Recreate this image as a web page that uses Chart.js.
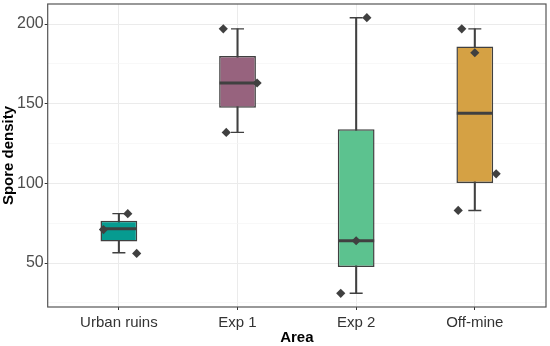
<!DOCTYPE html>
<html>
<head>
<meta charset="utf-8">
<script src="https://cdn.jsdelivr.net/npm/chart.js@4/dist/chart.umd.min.js"></script>
<style>
    html, body { margin: 0; padding: 0; background: #ffffff; }
    #wrap { width: 550px; height: 346px; }
</style>
</head>
<body>
<div id="wrap"><canvas id="base"></canvas></div>
<script>
// Data
const areas = ["Urban ruins", "Exp 1", "Exp 2", "Off-mine"];
const boxColors = ["#069b90", "#97637e", "#5cc28f", "#d5a144"];

// box stats per area
const whiskerLow = [56.5, 132, 31, 83];
const q1 = [63.5, 147.5, 47.5, 100.3];
const median = [71.5, 163, 64, 144];
const q3 = [76.5, 180, 134, 186];
const whiskerHigh = [81, 197, 204, 197];

// raw observations (area index, jitter offset, value)
const obsArea = [1, 1, 1, 2, 2, 2, 3, 3, 3, 4, 4, 4, 4];
const obsJitter = [0.075, -0.13, 0.15, -0.12, 0.165, -0.095, 0.09, 0, -0.13, -0.11, 0, 0.18, -0.14];
const obsValue = [81, 71, 56, 197, 163, 132, 204, 64, 31, 197, 182, 106, 83];

const yTicks = [25, 50, 75, 100, 125, 150, 175, 200];
const xTicks = [1, 2, 3, 4];

const ink = "#404040";

// Panel frame
const frame = {
    id: "frame",
    afterDraw(chart) {
        const { ctx, chartArea } = chart;
        ctx.save();
        ctx.strokeStyle = "#555555";
        ctx.lineWidth = 1.2;
        ctx.strokeRect(chartArea.left, chartArea.top, chartArea.right - chartArea.left, chartArea.bottom - chartArea.top);
        ctx.restore();
    },
};

const ctx = document.getElementById("base").getContext("2d");

new Chart(ctx, {
    type: "bar",
    data: {
        datasets: [
            {
                // whiskers
                type: "bar",
                data: xTicks.map((x, i) => ({ x: x, y: [whiskerLow[i], whiskerHigh[i]] })),
                backgroundColor: ink,
                barThickness: 1.4,
                grouped: false,
                order: 4,
            },
            {
                // boxes
                type: "bar",
                data: xTicks.map((x, i) => ({ x: x, y: [q1[i], q3[i]] })),
                backgroundColor: boxColors,
                borderColor: ink,
                borderWidth: 1.5,
                borderSkipped: false,
                barPercentage: 1,
                categoryPercentage: 0.31,
                grouped: false,
                order: 3,
            },
            {
                // whisker caps
                type: "scatter",
                data: xTicks.flatMap((x, i) => [{ x: x, y: whiskerLow[i] }, { x: x, y: whiskerHigh[i] }]),
                pointStyle: "line",
                pointRadius: 6.5,
                borderColor: ink,
                borderWidth: 1.4,
                order: 2,
            },
            {
                // medians
                type: "scatter",
                data: xTicks.map((x, i) => ({ x: x, y: median[i] })),
                pointStyle: "line",
                pointRadius: 18,
                borderColor: ink,
                borderWidth: 3,
                order: 1,
            },
            {
                // observations
                type: "scatter",
                data: obsValue.map((v, i) => ({ x: obsArea[i] + obsJitter[i], y: v })),
                pointStyle: "rectRot",
                pointRadius: 4.6,
                backgroundColor: ink,
                borderColor: ink,
                borderWidth: 0,
                order: 0,
            },
        ],
    },
    plugins: [frame],
    options: {
        responsive: true,
        maintainAspectRatio: false,
        animation: false,
        events: [],
        layout: {
            autoPadding: false,
            padding: { left: 1, right: 4, top: 4, bottom: 1 },
        },
        scales: {
            x: {
                type: "linear",
                min: 0.4,
                max: 4.6,
                offset: false,
                afterBuildTicks: (scale) => {
                    scale.ticks = xTicks.map((v) => ({ value: v }));
                },
                afterFit: (scale) => {
                    scale.paddingLeft = 0;
                    scale.paddingRight = 0;
                },
                ticks: {
                    autoSkip: false,
                    maxRotation: 0,
                    padding: 5,
                    color: "#333333",
                    font: { family: "Liberation Sans", size: 15, lineHeight: 1 },
                    callback: (v) => areas[v - 1] || "",
                },
                grid: {
                    offset: false,
                    color: "#ebebeb",
                    lineWidth: 1,
                    tickLength: 3,
                    tickColor: "#333333",
                },
                border: { display: false },
                title: {
                    display: true,
                    text: "Area",
                    color: "#000000",
                    padding: { top: -5, bottom: 0 },
                    font: { family: "Liberation Sans", size: 15, weight: "bold", lineHeight: 1 },
                },
            },
            y: {
                min: 22.4,
                max: 212.6,
                afterBuildTicks: (scale) => {
                    scale.ticks = yTicks.map((v) => ({ value: v }));
                },
                afterFit: (scale) => {
                    scale.paddingTop = 0;
                    scale.paddingBottom = 0;
                },
                ticks: {
                    padding: 1,
                    color: "#4d4d4d",
                    font: { family: "Liberation Sans", size: 16, lineHeight: 1 },
                    callback: (v) => (v % 50 === 0 ? v : ""),
                },
                grid: {
                    color: (c) => (c.tick && c.tick.value % 50 === 0 ? "#ebebeb" : "#f5f5f5"),
                    lineWidth: (c) => (c.tick && c.tick.value % 50 === 0 ? 1 : 0.7),
                    tickLength: 3,
                    tickColor: (c) => (c.tick && c.tick.value % 50 === 0 ? "#333333" : "transparent"),
                },
                border: { display: false },
                title: {
                    display: true,
                    text: "Spore density",
                    color: "#000000",
                    padding: { top: 0, bottom: 0 },
                    font: { family: "Liberation Sans", size: 15, weight: "bold", lineHeight: 1 },
                },
            },
        },
        plugins: {
            legend: { display: false },
            tooltip: { enabled: false },
        },
    },
});
</script>
</body>
</html>
